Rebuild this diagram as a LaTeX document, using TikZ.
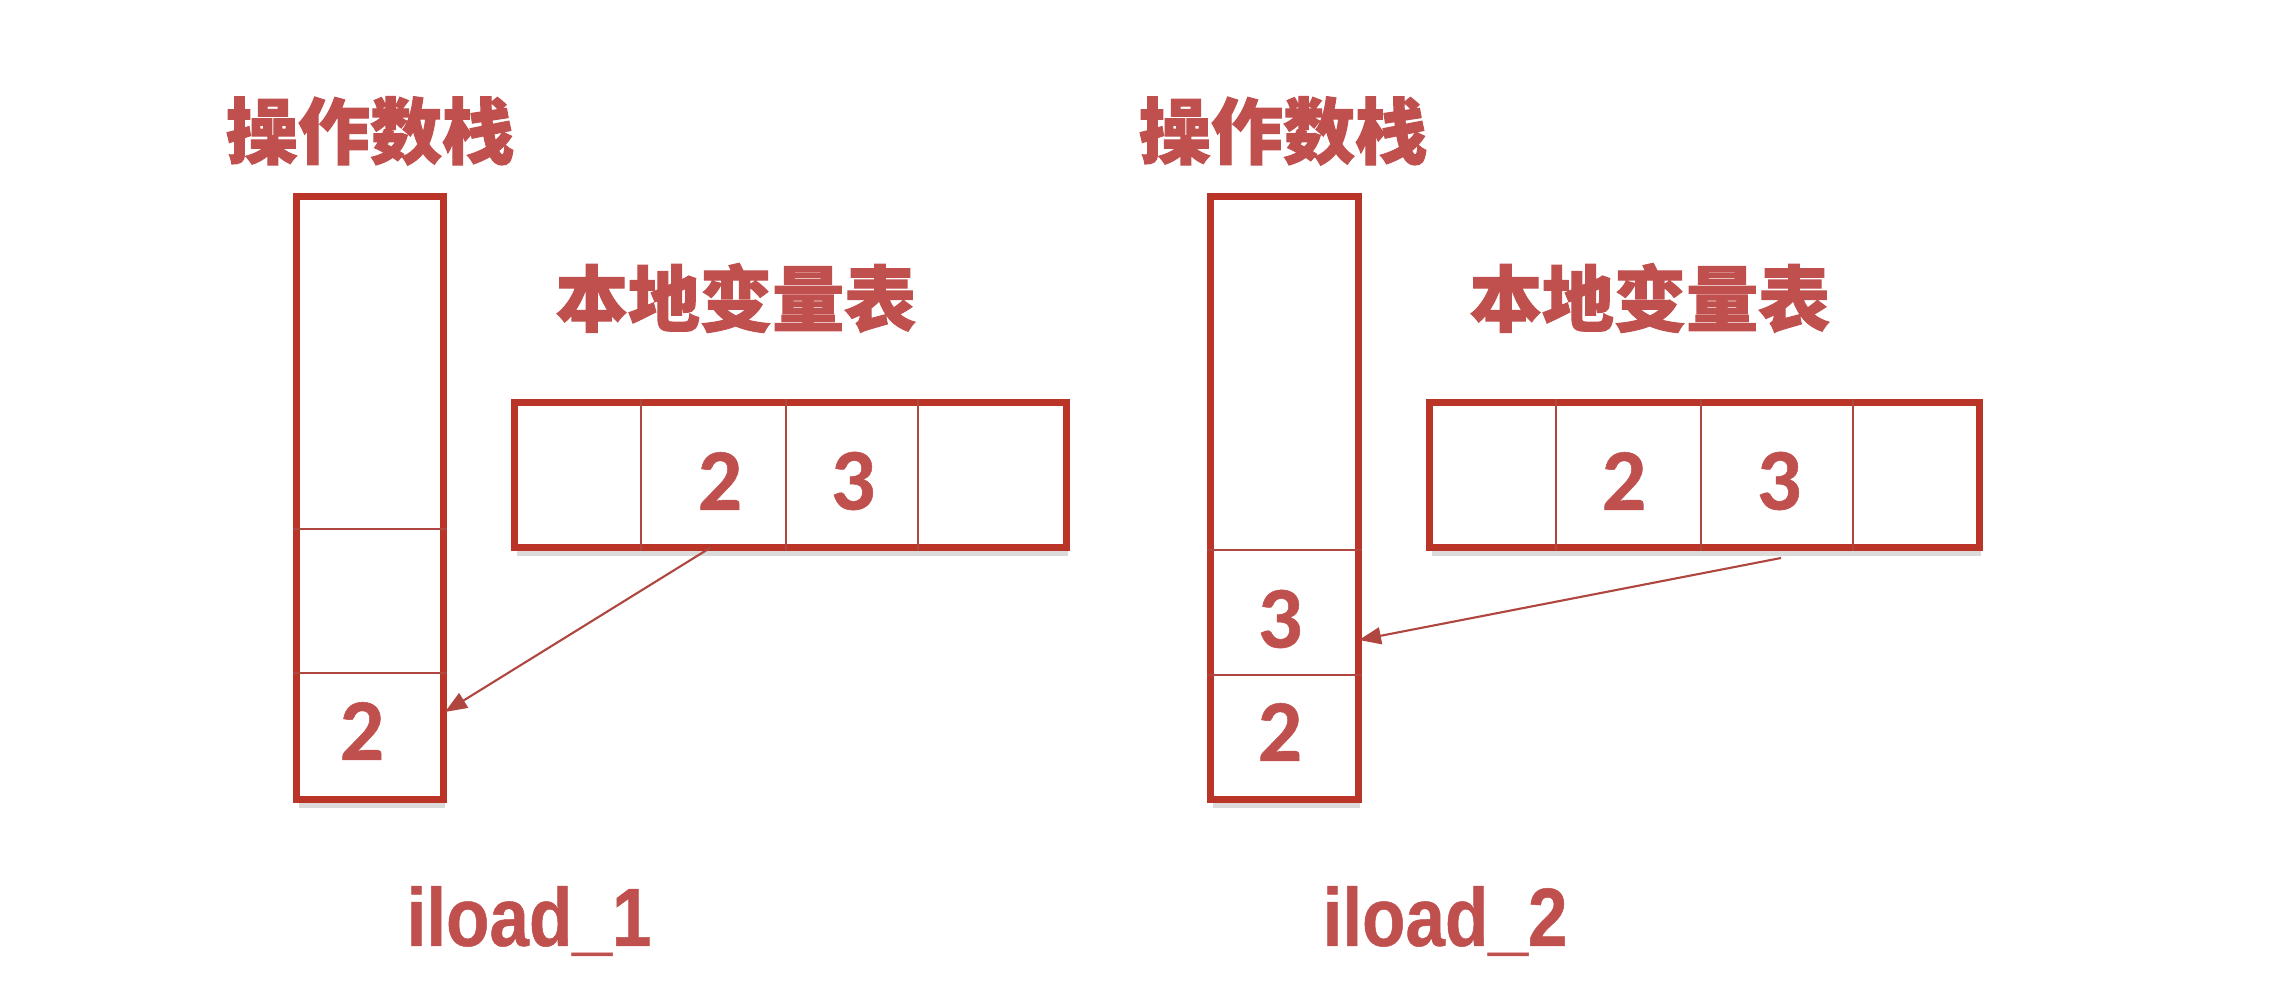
\documentclass[tikz,border=0pt]{standalone}
\usepackage{fontspec}
\newfontfamily\cjk{Noto Sans CJK SC}[BoldFeatures={FakeBold=1.4}]
\newfontfamily\digitfont{Carlito}[BoldFeatures={FakeBold=0.6}]
\newfontfamily\narrowfont{Liberation Sans}[FakeStretch=0.86,BoldFeatures={FakeBold=0.6}]
\usetikzlibrary{arrows.meta,shadows}
\definecolor{boxred}{RGB}{186,52,40}
\definecolor{txtred}{RGB}{192,80,77}
\definecolor{linered}{RGB}{176,70,64}
\tikzset{
  frame/.style={draw=boxred, line width=2pt, fill=white, inner sep=0pt,
    drop shadow={shadow xshift=0.02cm, shadow yshift=-0.09cm, opacity=0.14, fill=black}},
  divider/.style={draw=linered, line width=0.6pt},
  title/.style={text=txtred, font=\cjk\bfseries\fontsize{20.5}{24}\selectfont, inner sep=0pt},
  digit/.style={text=txtred, font=\digitfont\bfseries\fontsize{25}{28}\selectfont, inner sep=0pt},
  opname/.style={text=txtred, font=\narrowfont\bfseries\fontsize{23.5}{26}\selectfont, inner sep=0pt},
  loadarrow/.style={draw=linered, line width=0.6pt, -{Triangle[length=0.22cm,width=0.17cm]}}
}
\begin{document}
\begin{tikzpicture}[x=0.01cm,y=-0.01cm]
\useasboundingbox (0,0) rectangle (2274,1004);
% ---------- left panel ----------
\node[title] (t1) at (370,131) {操作数栈};
\node[frame, minimum width=1.46cm, minimum height=6.02cm] (s1) at (370,498) {};
\draw[divider] (s1.west |- 0,529) -- (s1.east |- 0,529);
\draw[divider] (s1.west |- 0,673) -- (s1.east |- 0,673);
\node[digit] (s1a) at (362,731) {2};
\node[title] (v1) at (736,298) {本地变量表};
\node[frame, minimum width=5.51cm, minimum height=1.44cm] (l1) at (790.5,475) {};
\foreach \xx in {641,786,918} \draw[divider] (\xx,0 |- l1.north) -- (\xx,0 |- l1.south);
\node[digit] (l1b) at (720,481) {2};
\node[digit] (l1c) at (853,481) {3};
\coordinate (a1s) at (710,548);
\coordinate (a1e) at (445,712);
\draw[loadarrow] (a1s) -- (a1e);
\node[opname] (op1) at (529,921) {iload\_1};
% ---------- right panel ----------
\node[title] (t2) at (1283,131) {操作数栈};
\node[frame, minimum width=1.47cm, minimum height=6.02cm] (s2) at (1284.5,498) {};
\draw[divider] (s2.west |- 0,550) -- (s2.east |- 0,550);
\draw[divider] (s2.west |- 0,675) -- (s2.east |- 0,675);
\node[digit] (s2b) at (1280,619) {3};
\node[digit] (s2a) at (1280,732) {2};
\node[title] (v2) at (1650,298) {本地变量表};
\node[frame, minimum width=5.49cm, minimum height=1.44cm] (l2) at (1704.5,475) {};
\foreach \xx in {1556,1701,1853} \draw[divider] (\xx,0 |- l2.north) -- (\xx,0 |- l2.south);
\node[digit] (l2b) at (1624,481) {2};
\node[digit] (l2c) at (1779,481) {3};
\coordinate (a2s) at (1781,558);
\coordinate (a2e) at (1359,640);
\draw[loadarrow] (a2s) -- (a2e);
\node[opname] (op2) at (1445,921) {iload\_2};
\end{tikzpicture}
\end{document}
